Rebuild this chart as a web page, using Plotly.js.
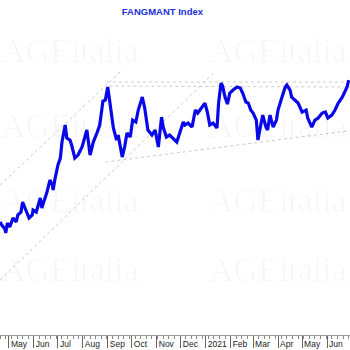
<!DOCTYPE html>
<html><head><meta charset="utf-8">
<script src="https://cdn.plot.ly/plotly-3.0.1.min.js"></script>
<style>html,body{margin:0;padding:0;background:#fff}#chart{width:350px;height:350px}</style>
</head><body><div id="chart"></div>
<script>
const dates = [
'2020-04-20','2020-04-22','2020-04-26','2020-04-27','2020-04-29','2020-05-02','2020-05-06','2020-05-10','2020-05-12','2020-05-16',
'2020-05-18','2020-05-23','2020-05-26','2020-05-30','2020-05-31','2020-06-04','2020-06-06','2020-06-09','2020-06-11','2020-06-12',
'2020-06-17','2020-06-21','2020-06-24','2020-06-25','2020-06-27','2020-07-01','2020-07-04','2020-07-06','2020-07-10','2020-07-12',
'2020-07-16','2020-07-18','2020-07-22','2020-07-26','2020-07-31','2020-08-06','2020-08-10','2020-08-14','2020-08-19','2020-08-22',
'2020-08-26','2020-08-29','2020-09-01','2020-09-04','2020-09-08','2020-09-12','2020-09-14','2020-09-19','2020-09-22','2020-09-25',
'2020-09-29','2020-10-02','2020-10-06','2020-10-09','2020-10-14','2020-10-17','2020-10-21','2020-10-26','2020-10-30','2020-11-03',
'2020-11-07','2020-11-09','2020-11-13','2020-11-17','2020-11-21','2020-11-26','2020-11-30','2020-12-04','2020-12-06','2020-12-10',
'2020-12-15','2020-12-19','2020-12-22','2020-12-27','2020-12-31','2021-01-03','2021-01-06','2021-01-10','2021-01-15','2021-01-17',
'2021-01-20','2021-01-22','2021-01-25','2021-01-28','2021-01-31','2021-02-04','2021-02-09','2021-02-13','2021-02-16','2021-02-20',
'2021-02-23','2021-02-26','2021-03-01','2021-03-05','2021-03-07','2021-03-11','2021-03-13','2021-03-17','2021-03-19','2021-03-22',
'2021-03-26','2021-03-30','2021-04-01','2021-04-06','2021-04-10','2021-04-12','2021-04-16','2021-04-18','2021-04-22','2021-04-26',
'2021-05-01','2021-05-06','2021-05-08','2021-05-13','2021-05-17','2021-05-21','2021-05-26','2021-05-30','2021-06-02','2021-06-07',
'2021-06-11','2021-06-15','2021-06-20','2021-06-22','2021-06-26','2021-06-28'];
const values = [
3187,3129,3051,2974,3167,3090,3264,3187,3322,3380,
3574,3380,3264,3322,3419,3380,3516,3651,3457,3516,
3748,3999,3903,3806,3999,4290,4425,4735,5064,4812,
4773,4677,4425,4483,4638,4967,4483,4735,4928,5064,
5528,5547,5799,5489,5006,4773,4870,4444,4638,4909,
4831,5160,5122,5354,5605,5393,4967,4870,4967,4638,
5218,5025,4831,4870,4812,4735,4928,5122,5064,5102,
5025,5354,5296,5393,5489,5315,5064,5102,5006,5489,
5876,5818,5605,5470,5683,5741,5799,5780,5683,5509,
5489,5354,5296,5160,4773,5102,5257,5025,4967,5257,
5025,5160,5354,5605,5799,5838,5741,5605,5547,5489,
5315,5354,5199,5025,5160,5199,5296,5315,5199,5257,
5354,5489,5605,5683,5799,5934];

const monthTicks = ['2020-05-01','2020-06-01','2020-07-01','2020-08-01','2020-09-01','2020-10-01','2020-11-01',
  '2020-12-01','2021-01-01','2021-02-01','2021-03-01','2021-04-01','2021-05-01','2021-06-01'];
const monthLabels = ['May','Jun','Jul','Aug','Sep','Oct','Nov','Dec','2021','Feb','Mar','Apr','May','Jun'];

// trend lines (dotted)
const upperDiagDates = ['2020-04-20','2020-09-19'];
const upperDiagValues = [3903, 6128];
const lowerDiagDates = ['2020-04-20','2021-01-12'];
const lowerDiagValues = [2064, 6089];
const topLineDates = ['2020-08-31','2021-06-30'];
const topLineValues = [5896, 5896];
const topLine2Dates = ['2020-09-03','2021-06-30'];
const topLine2Values = [5818, 5799];
const supportDates = ['2020-08-29','2021-06-30'];
const supportValues = [4348, 4957];

const titleText = 'FANGMANT Index';
const watermark = 'AGEitalia';

const dotLine = {color:'#bdbdbd', width:0.8, dash:'dot'};
const traces = [
  {x:upperDiagDates, y:upperDiagValues, mode:'lines', line:dotLine, hoverinfo:'skip'},
  {x:lowerDiagDates, y:lowerDiagValues, mode:'lines', line:dotLine, hoverinfo:'skip'},
  {x:topLineDates, y:topLineValues, mode:'lines', line:dotLine, hoverinfo:'skip'},
  {x:topLine2Dates, y:topLine2Values, mode:'lines', line:dotLine, hoverinfo:'skip'},
  {x:supportDates, y:supportValues, mode:'lines', line:dotLine, hoverinfo:'skip'},
  {x:dates, y:values, mode:'lines', line:{color:'#0808e8', width:3.2}, name:titleText}
];

const wmPos = [[0.2,0.919],[0.795,0.919],[0.2,0.677],[0.795,0.677],[0.2,0.435],[0.795,0.435],[0.2,0.21],[0.795,0.21]];
const annotations = wmPos.map(p => ({
  xref:'paper', yref:'paper', x:p[0], y:p[1], text:watermark, showarrow:false,
  xanchor:'center', yanchor:'middle',
  font:{family:'Liberation Serif, DejaVu Serif, serif', size:34, color:'rgba(0,0,0,0.03)'}
}));

const layout = {
  width:350, height:350,
  margin:{l:0, r:0, t:25, b:15, pad:0},
  paper_bgcolor:'#ffffff', plot_bgcolor:'#ffffff',
  showlegend:false,
  title:{text:titleText, x:0.464, xanchor:'center', y:0.966, yanchor:'middle',
    font:{family:'Liberation Sans, Arial, sans-serif', size:9.5, color:'#1c2fd8', weight:'bold'}},
  xaxis:{
    type:'date', range:['2020-04-19T20:00','2021-06-29T15:00'],
    tickmode:'array', tickvals:monthTicks, ticktext:monthLabels, tickangle:0,
    ticks:'outside', ticklen:12, tickwidth:1, tickcolor:'#666',
    showline:true, linecolor:'#999', linewidth:1,
    showgrid:false, zeroline:false, automargin:false,
    ticklabelposition:'outside right', ticklabelstandoff:1, ticklabelshift:1,
    tickfont:{family:'Liberation Sans, Arial, sans-serif', size:8.5, color:'#222'},
    minor:{tickmode:'linear', tick0:'2020-04-20', dtick:604800000, ticks:'outside', ticklen:3, tickcolor:'#888', tickwidth:1, showgrid:false}
  },
  yaxis:{range:[1000,7000], visible:false, showgrid:false, zeroline:false},
  annotations:annotations
};

Plotly.newPlot('chart', traces, layout, {staticPlot:true, displayModeBar:false});
</script>
</body></html>
